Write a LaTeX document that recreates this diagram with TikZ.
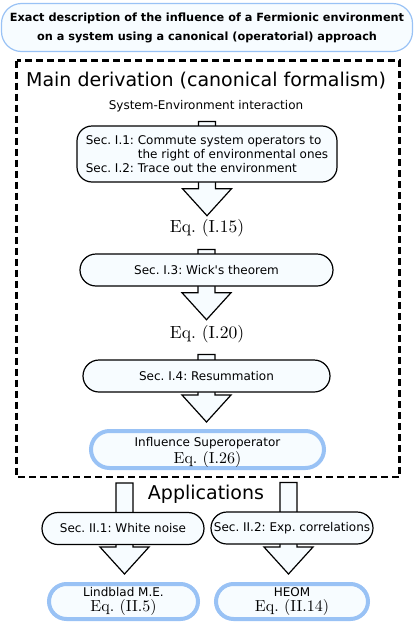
\documentclass[tikz,border=0pt]{standalone}
\usepackage{fontspec}
\setsansfont{DejaVu Sans}
\newfontfamily\eqfamily{lmroman10-regular.otf}
\usetikzlibrary{calc}
\pgfdeclarelayer{background}
\pgfsetlayers{background,main}
\definecolor{infblue}{RGB}{153,194,245}
\definecolor{boxfill}{RGB}{247,252,255}
\newcommand{\eqfont}{\eqfamily\fontsize{16}{16}\selectfont}
\frenchspacing

% fat block arrow from a stem point down to a tip point
\newcommand{\fatarrow}[2]{%
  \draw[arrowbody] let \p1=(#1), \p2=(#2) in
    (\x1-8.5pt,\y1) -- (\x1+8.5pt,\y1) -- (\x1+8.5pt,\y2+27pt) -- (\x1+24.5pt,\y2+27pt)
    -- (\x1,\y2) -- (\x1-24.5pt,\y2+27pt) -- (\x1-8.5pt,\y2+27pt) -- cycle;}

\begin{document}
\begin{tikzpicture}[x=1pt, y=-1pt,
    secbox/.style={draw=black, fill=boxfill, line width=1.2pt, rounded corners=16pt,
        inner sep=0pt, font=\sffamily\fontsize{12}{14}\selectfont},
    resbox/.style={draw=infblue, fill=boxfill, line width=4pt, rounded corners=17.5pt,
        inner sep=0pt, align=center, font=\sffamily\fontsize{12}{15}\selectfont},
    eqtext/.style={font=\eqfamily\fontsize{17.5}{20}\selectfont},
    arrowbody/.style={draw=black, fill=boxfill, line width=1.2pt}]
    \useasboundingbox (0,0) rectangle (415,624);

    % 1. Title box
    \node[draw=infblue, fill=boxfill, line width=1.2pt, rounded corners=20pt,
        minimum width=411pt, minimum height=48pt, inner sep=0pt, align=center,
        font=\sffamily\bfseries\fontsize{11.3}{19}\selectfont] (title) at (207,27.5)
        {Exact description of the influence of a Fermionic environment\\
         on a system using a canonical (operatorial) approach};

    % 2. Dashed frame of the main derivation
    \draw[line width=2.5pt, dash pattern=on 7pt off 4pt] (16.5,60.5) rectangle (399.5,477);
    \node[font=\sffamily\fontsize{19}{22}\selectfont] (main) at (206,81) {Main derivation (canonical formalism)};
    \node[font=\sffamily\fontsize{12}{14}\selectfont] (sysenv) at (206,106) {System-Environment interaction};

    % 3. Derivation steps
    \node[secbox, rounded corners=15pt, minimum width=260pt, minimum height=56pt, align=left] (trace) at (207,154)
        {Sec. I.1: Commute system operators to\\
         \phantom{Sec. I.1: }the right of environmental ones\\
         Sec. I.2: Trace out the environment};
    \node[eqtext] (eq15) at (207,228) {Eq. (I.15)};
    \node[secbox, minimum width=253pt, minimum height=32pt] (wick) at (206.5,270) {Sec. I.3: Wick\textquotesingle s theorem};
    \node[eqtext] (eq20) at (207,334) {Eq. (I.20)};
    \node[secbox, minimum width=247pt, minimum height=32pt] (resum) at (206.5,376) {Sec. I.4: Resummation};
    \node[resbox, minimum width=233pt, minimum height=37pt, rounded corners=18.5pt] (influence) at (207.5,449.5)
        {\rule{0pt}{15pt}Influence Superoperator\\[1.5pt]{\eqfont Eq. (I.26)}};

    % 4. Applications
    \node[font=\sffamily\fontsize{19}{22}\selectfont] (apps) at (206,494) {Applications};
    \node[secbox, minimum width=162pt, minimum height=32pt] (white) at (123,528.5) {Sec. II.1: White noise};
    \node[secbox, minimum width=162pt, minimum height=32pt] (expcorr) at (292,528) {Sec. II.2: Exp. correlations};
    \node[resbox, minimum width=149pt, minimum height=35pt] (lindblad) at (123.5,601.5)
        {Lindblad M.E.\\{\eqfont Eq. (II.5)}};
    \node[resbox, minimum width=152pt, minimum height=35pt] (heom) at (292,601.5)
        {HEOM\\{\eqfont Eq. (II.14)}};

    % 5. Block arrows behind the boxes
    \begin{pgfonlayer}{background}
        \fatarrow{[yshift=4pt]trace.north}{eq15.north}
        \fatarrow{[yshift=4pt]wick.north}{[yshift=2pt]eq20.north}
        \fatarrow{[yshift=5pt]resum.north}{[yshift=7pt]influence.north}
        \fatarrow{[xshift=1.5pt,yshift=29pt]white.north}{[yshift=8pt]lindblad.north}
        \fatarrow{[xshift=-3.5pt,yshift=29pt]expcorr.north}{[yshift=8pt]heom.north}
    \end{pgfonlayer}

\end{tikzpicture}
\end{document}
